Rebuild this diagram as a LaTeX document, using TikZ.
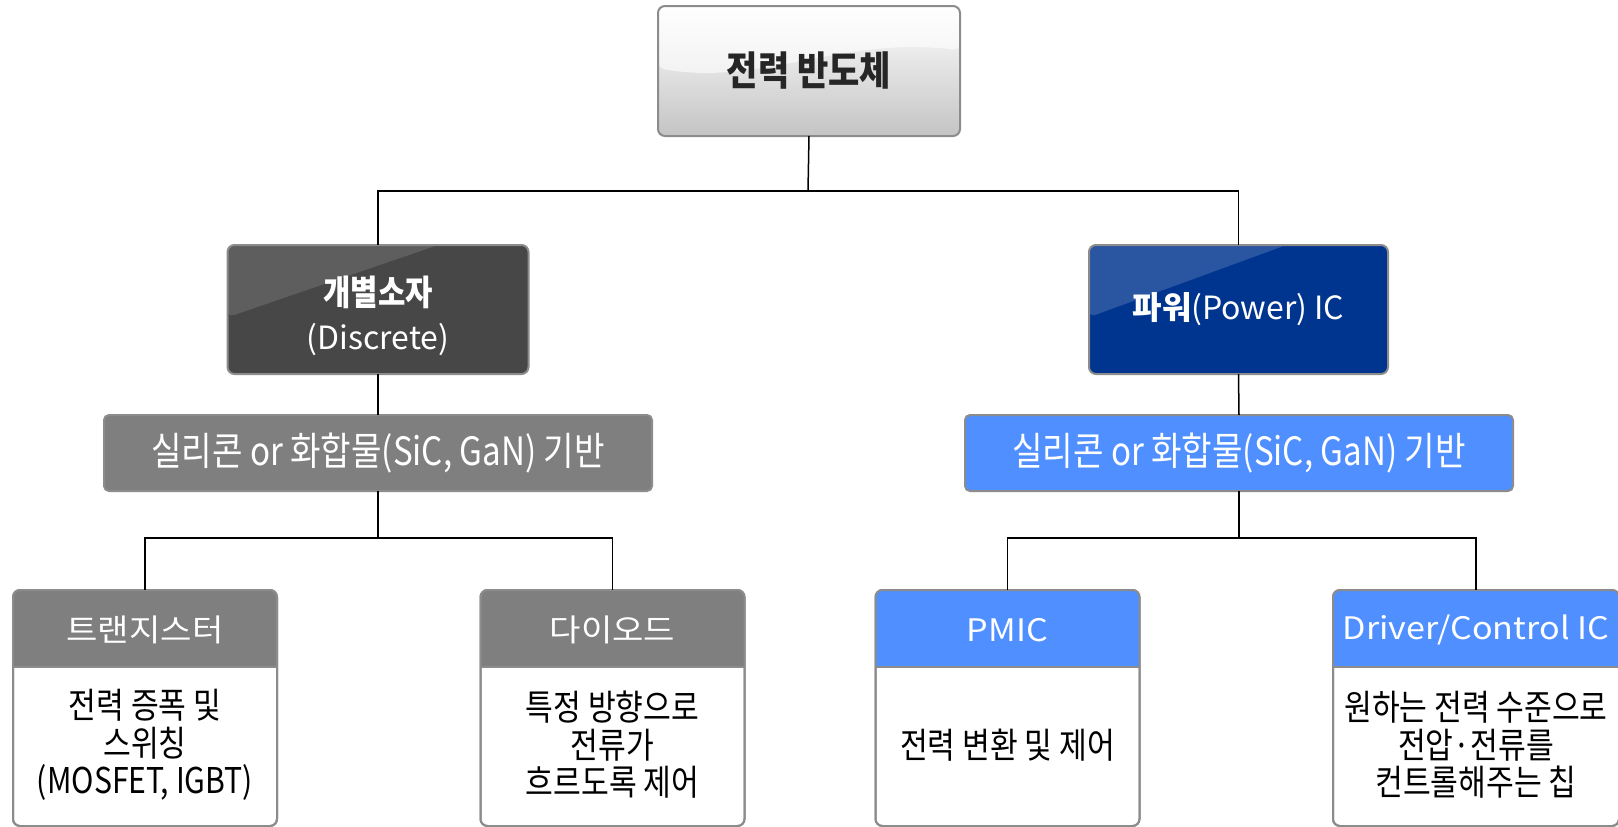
\documentclass[tikz,border=0pt]{standalone}
\usepackage{fontspec}
\setmainfont{Noto Sans CJK KR}[FakeStretch=0.85]
\newfontfamily\lt{Noto Sans CJK KR}
\newfontfamily\wide{Noto Sans CJK KR}[FakeStretch=1.1]
\usetikzlibrary{calc}
\definecolor{bordergray}{HTML}{8C8C8C}
\definecolor{discgray}{HTML}{474747}
\definecolor{dischl}{HTML}{5E5E5E}
\definecolor{powblue}{HTML}{00358F}
\definecolor{powhl}{HTML}{2A55A0}
\definecolor{midgray}{HTML}{7F7F7F}
\definecolor{lightblue}{HTML}{4F8FFF}
\definecolor{topbot}{HTML}{C4C4C4}
\definecolor{topmid}{HTML}{DCDCDC}
\newcommand\mkcard[6]{%
  \node[cardbody, minimum width=#3] (#1) at (#2,708) {};
  \begin{scope}
    \clip[rounded corners=7pt] (#1.north west) rectangle (#1.south east);
    \fill[#4] (#1.north west) rectangle ($(#1.north east)+(0,77)$);
    \draw[bordergray, line width=1.5pt] ($(#1.north west)+(0,77)$) -- ($(#1.north east)+(0,77)$);
  \end{scope}
  \draw[bordergray, line width=2pt, rounded corners=7pt] (#1.north west) rectangle (#1.south east);
  \node[headtxt] (#1h) at (#2,630) {#5};
  \node[bodytxt] (#1t) at (#2,745) {#6};
}
\begin{document}
\begin{tikzpicture}[x=1pt,y=-1pt,
  box/.style={draw=bordergray, line width=2pt, rounded corners=7pt, inner sep=0pt, outer sep=0pt, align=center},
  sicbox/.style={draw=bordergray, line width=2pt, rounded corners=5pt, inner sep=0pt, outer sep=0pt,
     minimum width=548pt, minimum height=76pt, text=white, font=\fontsize{39}{44}\selectfont},
  cardbody/.style={draw=bordergray, line width=2pt, rounded corners=7pt, fill=white, inner sep=0pt, outer sep=0pt,
     minimum height=236pt},
  headtxt/.style={text=white, font=\wide\fontsize{31}{37}\selectfont, inner sep=0pt},
  bodytxt/.style={text=black, align=center, font=\fontsize{35.5}{37.5}\selectfont, inner sep=0pt},
  conn/.style={draw=black, line width=1.5pt},
  gloss/.style 2 args={path picture={\fill[#1] (path picture bounding box.north west) -- ($(path picture bounding box.north west)!#2!(path picture bounding box.north east)$) -- ($(path picture bounding box.north west)!0.56!(path picture bounding box.south west)$) -- cycle;}},
  topgloss/.style={path picture={\fill[white, opacity=0.6] (path picture bounding box.north west) -- (path picture bounding box.north east) -- ($(path picture bounding box.north east)!0.34!(path picture bounding box.south east)$) .. controls ($(path picture bounding box.north west)!0.6!(path picture bounding box.north east)+(0,30)$) and ($(path picture bounding box.north west)!0.35!(path picture bounding box.north east)+(0,80)$) .. ($(path picture bounding box.north west)!0.48!(path picture bounding box.south west)$) -- cycle;}}
]
\useasboundingbox (0,0) rectangle (1618,827);
\fill[white] (0,0) rectangle (1618,827);

% junction points
\coordinate (j1) at (808,191);
\coordinate (jL) at (378,538);
\coordinate (jR) at (1239,538);

% top node
\node[box, minimum width=302pt, minimum height=130pt, top color=white, middle color=topmid, bottom color=topbot, topgloss,
  text=black!85, font=\bfseries\fontsize{40}{44}\selectfont] (top) at (809,71) {전력 반도체};

% level 2
\node[box, minimum width=301pt, minimum height=129pt, fill=discgray, gloss={dischl}{0.7}] (disc) at (378,309.5) {};
\node[text=white, align=center, inner sep=0pt, font=\fontsize{35}{44}\selectfont] (disct) at (378,316)
  {{\bfseries 개별소자}\\{\lt\fontsize{32}{44}\selectfont (Discrete)}};
\node[box, minimum width=299pt, minimum height=129pt, fill=powblue, gloss={powhl}{0.66}, text=white,
  font=\lt\fontsize{32}{40}\selectfont] (pow) at (1238.5,309.5) {{\bfseries 파워}(Power) IC};

% level 3
\node[sicbox, fill=midgray] (sicL) at (378,453) {실리콘 or 화합물(SiC, GaN) 기반};
\node[sicbox, fill=lightblue] (sicR) at (1239,453) {실리콘 or 화합물(SiC, GaN) 기반};

% level 4 cards
\mkcard{tr}{145}{264pt}{midgray}{트랜지스터}{전력 증폭 및\\스위칭\\(MOSFET, IGBT)}
\mkcard{di}{612.5}{264pt}{midgray}{다이오드}{특정 방향으로\\전류가\\흐르도록 제어}
\mkcard{pm}{1007.5}{264pt}{lightblue}{PMIC}{전력 변환 및 제어}
\mkcard{dr}{1476}{286pt}{lightblue}{Driver/Control IC}{원하는 전력 수준으로\\전압·전류를\\컨트롤해주는 칩}

% connectors
\draw[conn] (top.south) -- (j1);
\draw[conn] (disc.north) |- (j1) -| (pow.north);
\draw[conn] (disc.south) -- (sicL.north);
\draw[conn] (pow.south) -- (sicR.north);
\draw[conn] (sicL.south) -- (jL);
\draw[conn] (tr.north) |- (jL) -| (di.north);
\draw[conn] (sicR.south) -- (jR);
\draw[conn] (pm.north) |- (jR) -| (dr.north);
\end{tikzpicture}
\end{document}
